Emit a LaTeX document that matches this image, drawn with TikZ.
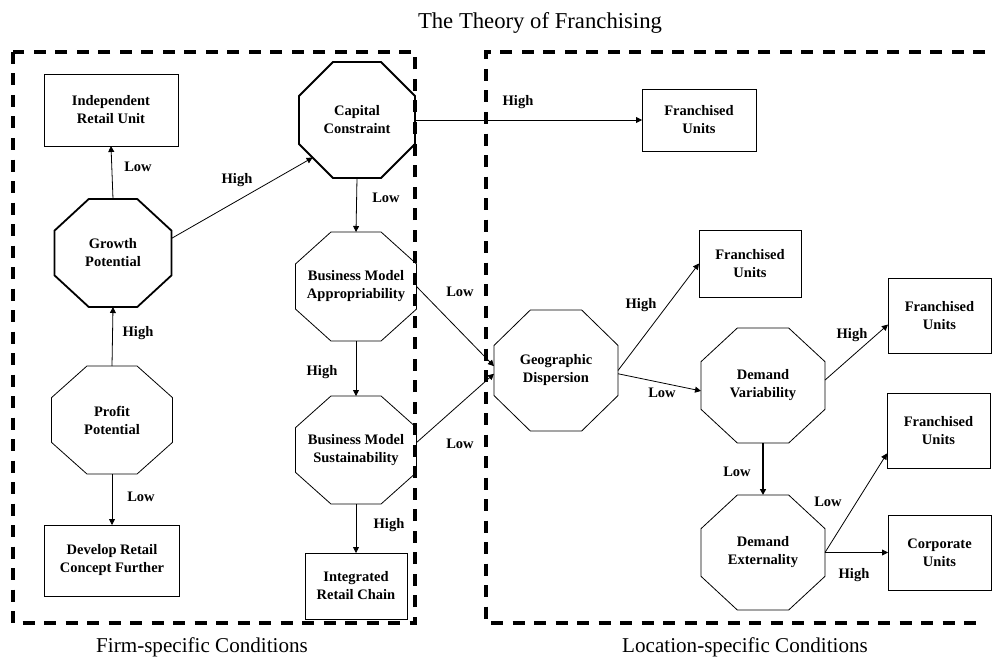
\documentclass[tikz,border=0pt]{standalone}
\usepackage{fontspec}
\setmainfont{Liberation Serif}
\usetikzlibrary{calc,arrows.meta}
\newcommand\octpath[2][]{%
  \coordinate (#2-1) at ($(#2.north west)!0.293!(#2.north east)$);
  \coordinate (#2-2) at ($(#2.north east)!0.293!(#2.north west)$);
  \coordinate (#2-3) at ($(#2.north east)!0.293!(#2.south east)$);
  \coordinate (#2-4) at ($(#2.south east)!0.293!(#2.north east)$);
  \coordinate (#2-5) at ($(#2.south east)!0.293!(#2.south west)$);
  \coordinate (#2-6) at ($(#2.south west)!0.293!(#2.south east)$);
  \coordinate (#2-7) at ($(#2.south west)!0.293!(#2.north west)$);
  \coordinate (#2-8) at ($(#2.north west)!0.293!(#2.south west)$);
  \draw[octline,#1] (#2-1) -- (#2-2) -- (#2-3) -- (#2-4) -- (#2-5) -- (#2-6) -- (#2-7) -- (#2-8) -- cycle;}
\begin{document}
\begin{tikzpicture}[x=1pt,y=-1pt,
  txt/.style={font=\fontsize{14.5}{18}\selectfont\bfseries, align=center},
  lbl/.style={font=\fontsize{14.5}{18}\selectfont\bfseries, inner sep=0pt},
  box/.style={txt, draw, line width=0.8pt, inner sep=0pt, outer sep=0pt},
  oct/.style={txt, rectangle, inner sep=0pt, outer sep=0pt},
  octline/.style={line width=0.8pt, line join=miter},
  arr/.style={line width=0.8pt, -{Triangle[length=6pt,width=6pt]}},
  region/.style={line width=3.3pt, dash pattern=on 12pt off 9.5pt},
  caption/.style={font=\fontsize{21.1}{25}\selectfont, anchor=base, inner sep=0pt}]
\useasboundingbox (0,0) rectangle (995,658);

% title and captions
\node[caption, font=\fontsize{22.7}{27}\selectfont] (title) at (540,29) {The Theory of Franchising};
\node[caption] (firm) at (202,652) {Firm-specific Conditions};
\node[caption] (loc) at (745,652) {Location-specific Conditions};

% firm-specific nodes
\node[box, minimum width=134pt, minimum height=72pt] (iru) at (111,110) {Independent\\Retail Unit};
\node[oct, minimum width=117pt, minimum height=108pt] (gp) at (113,253) {Growth\\Potential};
\octpath[line width=1.8pt]{gp}
\node[oct, minimum width=121pt, minimum height=108pt] (pp) at (112,420) {Profit\\Potential};
\octpath{pp}
\node[box, minimum width=135pt, minimum height=71pt] (drc) at (112,560.5) {Develop Retail\\Concept Further};
\node[oct, minimum width=116pt, minimum height=116pt] (cc) at (357,120) {Capital\\Constraint};
\octpath[line width=1.8pt]{cc}
\node[oct, minimum width=121pt, minimum height=109pt] (bma) at (356,286.5) {Business Model\\Appropriability};
\octpath{bma}
\node[oct, minimum width=121pt, minimum height=108pt] (bms) at (356,450) {Business Model\\Sustainability};
\octpath{bms}
\node[box, minimum width=102pt, minimum height=66pt] (irc) at (356,586) {Integrated\\Retail Chain};

% location-specific nodes
\node[box, minimum width=114pt, minimum height=62pt] (fu1) at (699,120) {Franchised\\Units};
\node[box, minimum width=102pt, minimum height=67pt] (fu2) at (750,263.5) {Franchised\\Units};
\node[oct, minimum width=124pt, minimum height=121pt] (geo) at (556,370.5) {Geographic\\Dispersion};
\octpath{geo}
\node[oct, minimum width=124pt, minimum height=115pt] (dv) at (763,385.5) {Demand\\Variability};
\octpath{dv}
\node[oct, minimum width=124pt, minimum height=115pt] (de) at (763,552.5) {Demand\\Externality};
\octpath{de}
\node[box, minimum width=103pt, minimum height=75pt] (fr1) at (939.5,315.5) {Franchised\\Units};
\node[box, minimum width=103pt, minimum height=75pt] (fr2) at (938.5,430.5) {Franchised\\Units};
\node[box, minimum width=103pt, minimum height=75pt] (cu) at (939.5,552.5) {Corporate\\Units};

% connectors
\coordinate (ccin) at ($(cc-7)!0.4!(cc-6)$);
\draw[arr] (gp.north) -- (iru.south);
\draw[arr] (gp.14) -- (ccin);
\draw[arr] (pp.north) -- (gp.south);
\draw[arr] (pp.south) -- (drc.north);
\draw[arr] (cc.south) -- (bma.north);
\draw[arr] (bma.south) -- (bms.north);
\draw[arr] (bms.south) -- (irc.north);
\draw[arr] (cc.east) -- (fu1.west);
\draw[arr] (bma.east) -- (geo.176);
\draw[arr] (bms.7) -- (geo.183);
\draw[arr] (geo.east) -- (fu2.west);
\draw[arr] (geo.357) -- (dv.185);
\draw[arr] (dv.5) -- (fr1.190);
\draw[arr, line width=1.6pt] (dv.south) -- (de.north);
\draw[arr] (de.east) -- (fr2.204);
\draw[arr] (de.east) -- (cu.west);

% connector labels
\node[lbl] (l1) at (138,167) {Low};
\node[lbl] (l2) at (237,180) {High};
\node[lbl] (l3) at (138,333) {High};
\node[lbl] (l4) at (141,497) {Low};
\node[lbl] (l5) at (386,198) {Low};
\node[lbl] (l6) at (322,372) {High};
\node[lbl] (l7) at (389,525) {High};
\node[lbl] (l8) at (518,102) {High};
\node[lbl] (l9) at (460,292) {Low};
\node[lbl] (l10) at (460,444) {Low};
\node[lbl] (l11) at (641,305) {High};
\node[lbl] (l12) at (662,393) {Low};
\node[lbl] (l13) at (852,335) {High};
\node[lbl] (l14) at (737,472) {Low};
\node[lbl] (l15) at (828,502) {Low};
\node[lbl] (l16) at (854,575) {High};

% dashed regions
\draw[region] (13,52) rectangle (415,623);
\draw[region] (985,52) -- (486,52) -- (486,623) -- (985,623);
\end{tikzpicture}
\end{document}
